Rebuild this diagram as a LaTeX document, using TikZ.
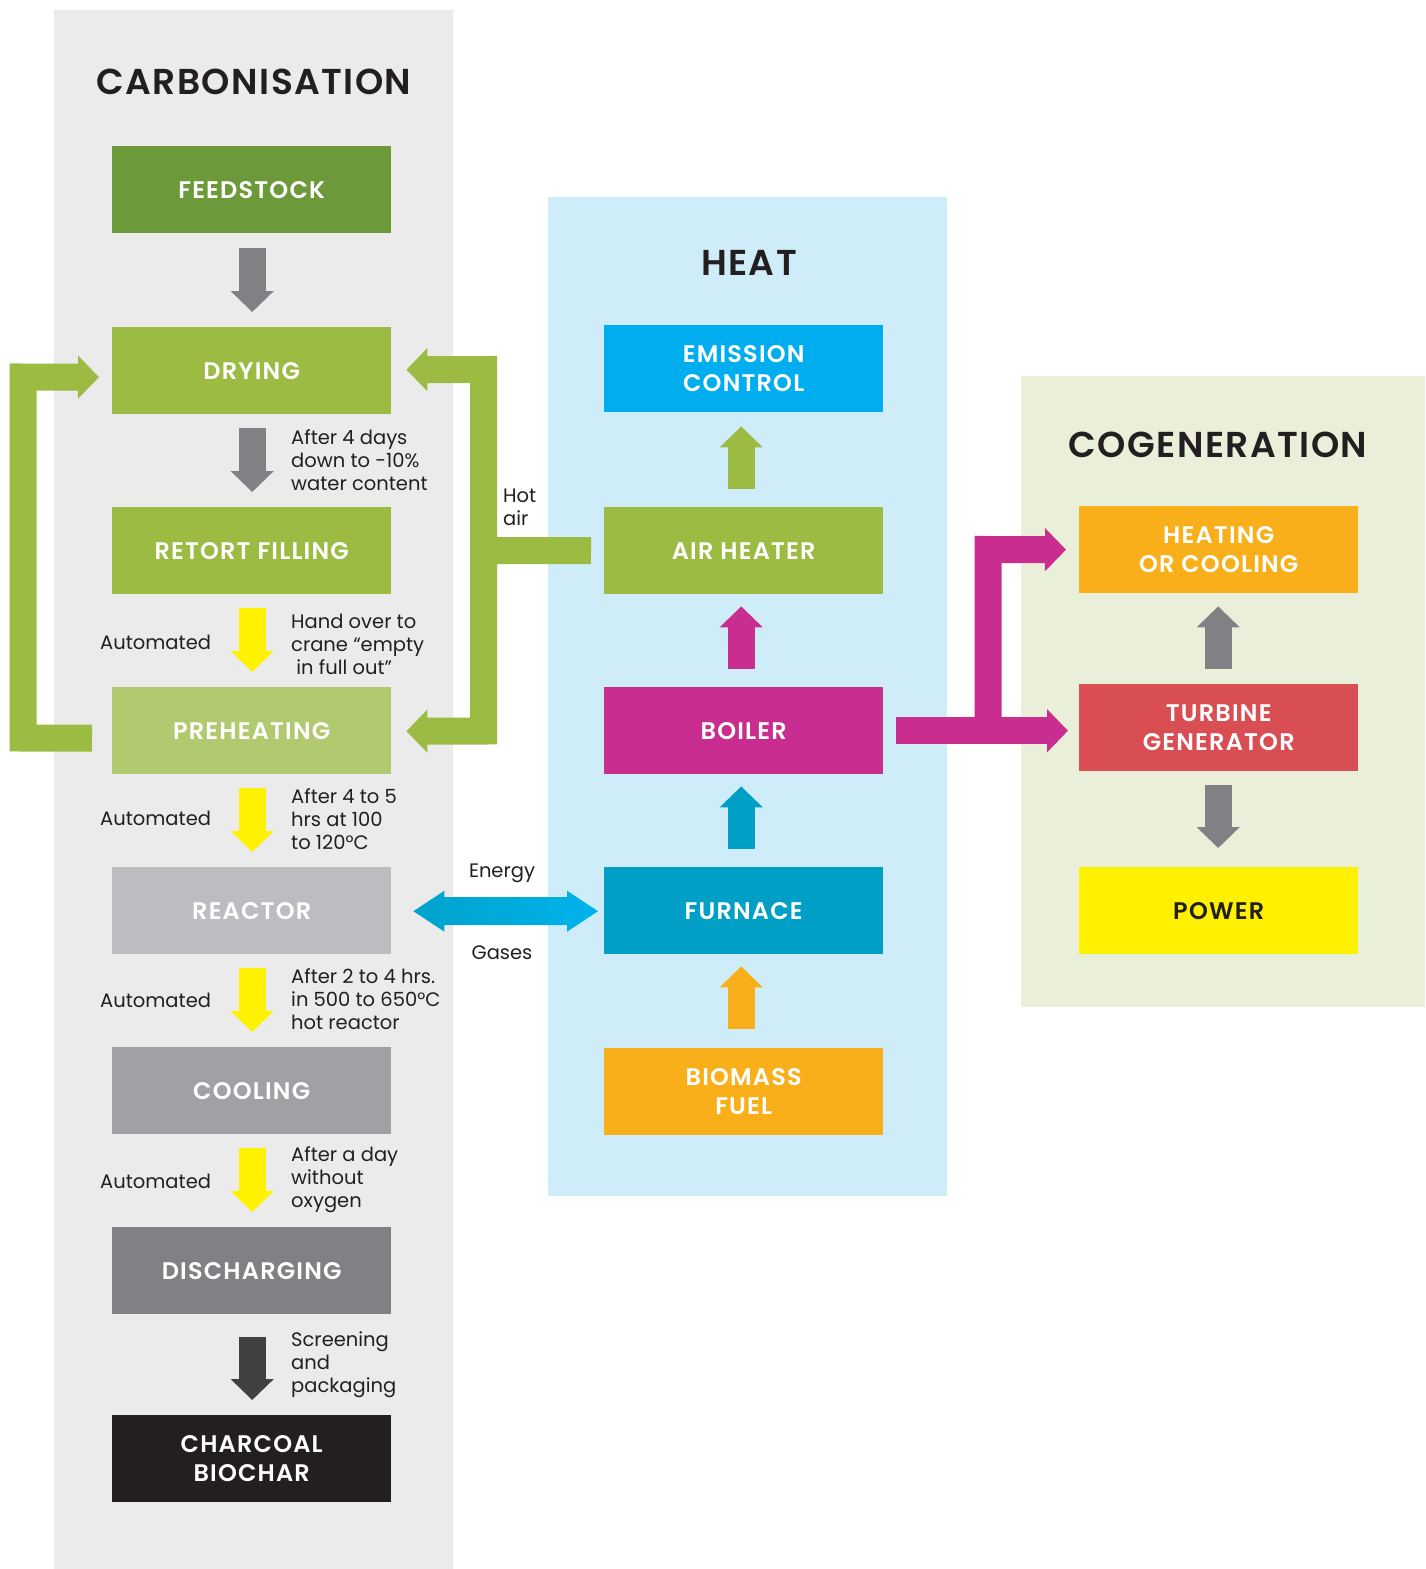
\documentclass[tikz,border=0pt]{standalone}
\usepackage{fontspec}
\setmainfont{Poppins}[BoldFont={* SemiBold}]
\newfontfamily\titlefont{Poppins}[BoldFont={* SemiBold},LetterSpace=4]
\newfontfamily\labelfont{Poppins}[BoldFont={* SemiBold},LetterSpace=5]
\usetikzlibrary{arrows.meta,calc}
\definecolor{ink}{HTML}{231F20}
\definecolor{panelgray}{HTML}{EBEBEB}
\definecolor{panelheat}{HTML}{CFEDF9}
\definecolor{panelcog}{HTML}{EAEFD9}
\definecolor{cfeed}{HTML}{6C9A3B}
\definecolor{cgreen}{HTML}{9CBB43}
\definecolor{cpre}{HTML}{B1C96F}
\definecolor{creact}{HTML}{BCBDC0}
\definecolor{ccool}{HTML}{A0A1A4}
\definecolor{cdisch}{HTML}{808184}
\definecolor{cchar}{HTML}{231F20}
\definecolor{cemis}{HTML}{00AEEF}
\definecolor{cboil}{HTML}{C92D8F}
\definecolor{cfurn}{HTML}{00A0C6}
\definecolor{cbio}{HTML}{F9AF19}
\definecolor{cturb}{HTML}{D94E52}
\definecolor{cpow}{HTML}{FFF100}
\definecolor{cyel}{HTML}{FFF200}
\definecolor{cgrayarr}{HTML}{808184}
\definecolor{cdark}{HTML}{414042}
\definecolor{cenL}{HTML}{00A3CB}
\definecolor{cenR}{HTML}{00B3EC}
\begin{document}
\begin{tikzpicture}[x=1pt,y=-1pt,
  boxst/.style={anchor=north west, minimum width=279pt, minimum height=87pt, inner sep=0pt,
    text=white, align=center, font=\labelfont\bfseries\fontsize{24}{29}\selectfont},
  titlest/.style={text=ink, font=\titlefont\bfseries\fontsize{36}{40}\selectfont, inner sep=0pt},
  notest/.style={anchor=west, text=ink, align=left, inner sep=0pt, font=\fontsize{19.5}{23}\selectfont},
  blockarr/.style={line width=27pt, -{Triangle[length=21pt,width=42pt]}},
  bentarr/.style={line width=27pt, line join=miter, -{Triangle[length=21pt,width=42pt]}},
  bentboth/.style={line width=27pt, line join=miter, {Triangle[length=21pt,width=42pt]}-{Triangle[length=21pt,width=42pt]}},
  bentbar/.style={line width=27pt, line join=miter}
]
\useasboundingbox (0,0) rectangle (1425,1569);
\fill[white] (0,0) rectangle (1425,1569);
% panels
\fill[panelgray] (54,10) rectangle (453,1569);
\fill[panelheat] (548,197) rectangle (947,1196);
\fill[panelcog] (1021,376) rectangle (1425,1007);
% titles
\node[titlest] (tcarb) at (254,82) {CARBONISATION};
\node[titlest] (theat) at (749,263) {HEAT};
\node[titlest] (tcog) at (1218,445) {COGENERATION};
% carbonisation boxes
\node[boxst, fill=cfeed] (feed) at (112,146) {FEEDSTOCK};
\node[boxst, fill=cgreen] (dry) at (112,327) {DRYING};
\node[boxst, fill=cgreen] (retort) at (112,507) {RETORT FILLING};
\node[boxst, fill=cpre] (pre) at (112,687) {PREHEATING};
\node[boxst, fill=creact] (reactor) at (112,867) {REACTOR};
\node[boxst, fill=ccool] (cool) at (112,1047) {COOLING};
\node[boxst, fill=cdisch] (disch) at (112,1227) {DISCHARGING};
\node[boxst, fill=cchar] (char) at (112,1415) {CHARCOAL\\BIOCHAR};
% heat boxes
\node[boxst, fill=cemis] (emis) at (604,325) {EMISSION\\CONTROL};
\node[boxst, fill=cgreen] (airh) at (604,507) {AIR HEATER};
\node[boxst, fill=cboil] (boiler) at (604,687) {BOILER};
\node[boxst, fill=cfurn] (furnace) at (604,867) {FURNACE};
\node[boxst, fill=cbio] (biomass) at (604,1048) {BIOMASS\\FUEL};
% cogeneration boxes
\node[boxst, fill=cbio] (heatc) at (1079,506) {HEATING\\OR COOLING};
\node[boxst, fill=cturb] (turb) at (1079,684) {TURBINE\\GENERATOR};
\node[boxst, fill=cpow, text=ink] (power) at (1079,867) {POWER};
% notes
\node[notest] (n1) at (291,460) {After 4 days\\down to -10\%\\water content};
\node[notest] (n2) at (291,644) {Hand over to\\crane “empty\\\ in full out”};
\node[notest] (n3) at (291,819) {After 4 to 5\\hrs at 100\\to 120°C};
\node[notest] (n4) at (291,999) {After 2 to 4 hrs.\\in 500 to 650°C\\hot reactor};
\node[notest] (n5) at (291,1180) {After a day\\without\\oxygen};
\node[notest] (n6) at (291,1365) {Screening\\and\\packaging};
\node[notest] (a1) at (100,642) {Automated};
\node[notest] (a2) at (100,818) {Automated};
\node[notest] (a3) at (100,1000) {Automated};
\node[notest] (a4) at (100,1181) {Automated};
\node[notest] (hot) at (503,507) {Hot\\air};
\node[text=ink, inner sep=0pt, font=\fontsize{19.5}{23}\selectfont] (energy) at (502,873) {Energy};
\node[text=ink, inner sep=0pt, font=\fontsize{19.5}{23}\selectfont] (gases) at (502,953) {Gases};
% carbonisation arrows
\draw[blockarr, cgrayarr] ($(feed.south)+(0.5,15)$) -- ($(dry.north)+(0.5,-15)$);
\draw[blockarr, cgrayarr] ($(dry.south)+(0.5,14)$) -- ($(retort.north)+(0.5,-15)$);
\draw[blockarr, cyel] ($(retort.south)+(0.5,14)$) -- ($(pre.north)+(0.5,-15)$);
\draw[blockarr, cyel] ($(pre.south)+(0.5,14)$) -- ($(reactor.north)+(0.5,-15)$);
\draw[blockarr, cyel] ($(reactor.south)+(0.5,14)$) -- ($(cool.north)+(0.5,-15)$);
\draw[blockarr, cyel] ($(cool.south)+(0.5,14)$) -- ($(disch.north)+(0.5,-15)$);
\draw[blockarr, cdark] ($(disch.south)+(0.5,23)$) -- ($(char.north)+(0.5,-15)$);
% heat arrows
\draw[blockarr, cgreen] ($(airh.north)+(-2.5,-18)$) -- ($(emis.south)+(-2.5,14)$);
\draw[blockarr, cboil] ($(boiler.north)+(-2.5,-18)$) -- ($(airh.south)+(-2.5,12)$);
\draw[blockarr, cfurn] ($(furnace.north)+(-2.5,-18)$) -- ($(boiler.south)+(-2.5,12)$);
\draw[blockarr, cbio] ($(biomass.north)+(-2.5,-19)$) -- ($(furnace.south)+(-2.5,12)$);
% cogeneration arrows
\draw[blockarr, cgrayarr] ($(turb.north)+(-0.5,-15)$) -- ($(heatc.south)+(-0.5,13)$);
\draw[blockarr, cgrayarr] ($(turb.south)+(-0.5,14)$) -- ($(power.north)+(-0.5,-19)$);
% left recirculation loop
\coordinate (lb) at (23,738);
\coordinate (lt) at (23,377);
\draw[bentarr, cgreen] ($(pre.west)+(-20,7.5)$) -- (lb) -- (lt) -- ($(dry.west)+(-13,6.5)$);
% hot air
\coordinate (hj) at (489,550.5);
\coordinate (ht) at (483.5,369.5);
\coordinate (hb) at (483.5,731);
\draw[bentboth, cgreen] ($(pre.east)+(15,0.5)$) -- (hb) -- (ht) -- ($(dry.east)+(15,-1)$);
\draw[bentbar, cgreen] ($(airh.west)+(-13,0)$) -- (hj);
% boiler to cogeneration
\coordinate (mj) at (988,730.5);
\coordinate (mt) at (988,549.5);
\draw[bentarr, cboil] (mj) -- (mt) -- ($(heatc.west)+(-13,0)$);
\draw[blockarr, cboil] ($(boiler.east)+(13,0)$) -- ($(boiler.east -| turb.west)+(-11,0)$);
% energy / gases double arrow
\coordinate (el) at ($(reactor.east)+(22,0.5)$);
\coordinate (er) at ($(furnace.west)+(-6,0.5)$);
\shade[left color=cenL, right color=cenR] (el) -- ($(el)+(31,-20.5)$) -- ($(el)+(31,-14)$) -- ($(er)+(-31,-14)$) -- ($(er)+(-31,-20.5)$) -- (er) -- ($(er)+(-31,20.5)$) -- ($(er)+(-31,14)$) -- ($(el)+(31,14)$) -- ($(el)+(31,20.5)$) -- cycle;
\end{tikzpicture}
\end{document}
